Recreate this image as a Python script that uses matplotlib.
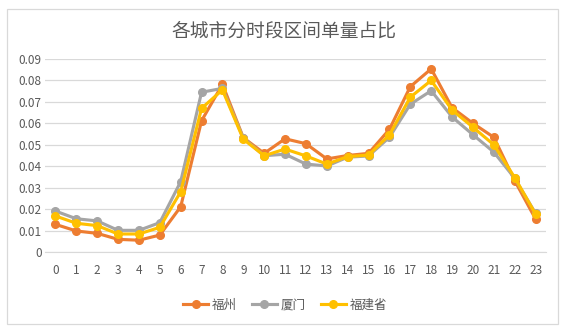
import numpy as np
import matplotlib
matplotlib.use("Agg")
import matplotlib.pyplot as plt
from matplotlib.patches import Rectangle

plt.rcParams['font.family'] = ['Noto Sans CJK SC', 'DejaVu Sans']

hours = list(range(24))
fuzhou = [0.0129, 0.0098, 0.0087, 0.0059, 0.0055, 0.0079, 0.0211, 0.0612,
          0.0782, 0.0533, 0.0460, 0.0528, 0.0505, 0.0434, 0.0450, 0.0460,
          0.0572, 0.0771, 0.0854, 0.0673, 0.0600, 0.0535, 0.0333, 0.0154]
xiamen = [0.0191, 0.0155, 0.0145, 0.0101, 0.0101, 0.0137, 0.0328, 0.0745,
          0.0763, 0.0531, 0.0449, 0.0456, 0.0410, 0.0401, 0.0442, 0.0448,
          0.0535, 0.0689, 0.0752, 0.0630, 0.0547, 0.0466, 0.0344, 0.0180]
fujian = [0.0168, 0.0134, 0.0123, 0.0084, 0.0084, 0.0115, 0.0281, 0.0670,
          0.0756, 0.0526, 0.0449, 0.0480, 0.0448, 0.0410, 0.0445, 0.0452,
          0.0546, 0.0722, 0.0800, 0.0662, 0.0582, 0.0500, 0.0347, 0.0177]
series = [("福州", fuzhou, "#ED7D31"), ("厦门", xiamen, "#A5A5A5"), ("福建省", fujian, "#FFC000")]

text_color = "#595959"
fig = plt.figure(figsize=(5.68, 3.28), dpi=100)
ax = fig.add_axes([45 / 568, 1 - 252 / 328, 501 / 568, 193 / 328])

for name, vals, color in series:
    ax.plot(hours, vals, color=color, lw=2.25, marker="o", markersize=5.5,
            label=name, solid_joinstyle="round")

ax.set_xlim(-0.5, 23.5)
ax.set_ylim(0, 0.09)
ax.set_yticks(np.arange(0, 0.091, 0.01))
ax.set_yticklabels(["0"] + ["%.2f" % v for v in np.arange(0.01, 0.091, 0.01)])
ax.set_xticks(hours)
ax.grid(axis="y", color="#D9D9D9", lw=0.9)
ax.set_axisbelow(True)
for s in ["top", "right", "left"]:
    ax.spines[s].set_visible(False)
ax.spines["bottom"].set_color("#D9D9D9")
ax.tick_params(length=0, labelsize=8.5, colors=text_color)
ax.tick_params(axis="y", pad=2.5)
ax.tick_params(axis="x", pad=9)

fig.text(0.5, 1 - 31 / 328, "各城市分时段区间单量占比", ha="center", va="center",
         fontsize=13.5, color=text_color)
fig.legend(loc="center", bbox_to_anchor=(285 / 568, 1 - 305 / 328), ncol=3,
           frameon=False, fontsize=9, labelcolor=text_color,
           handlelength=2.0, columnspacing=1.2, handletextpad=0.3)

fig.patches.append(Rectangle((7 / 568, 1 - 324 / 328), 551 / 568, 315 / 328,
                             transform=fig.transFigure, fill=False,
                             edgecolor="#D9D9D9", lw=0.9))

fig.savefig("out.png", dpi=100)
